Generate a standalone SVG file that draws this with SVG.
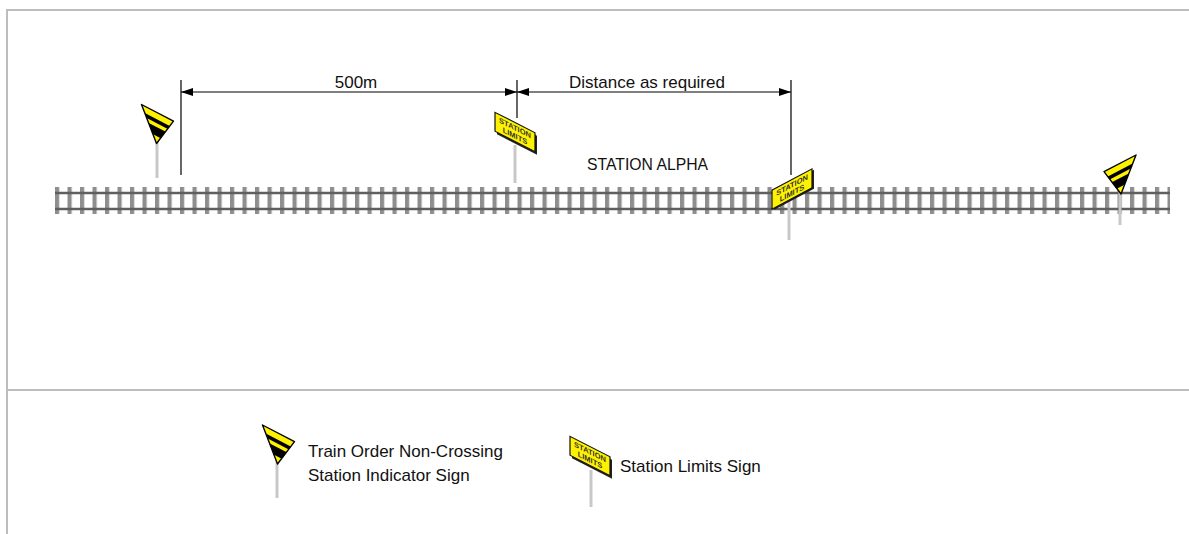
<svg xmlns="http://www.w3.org/2000/svg" width="1189" height="534" viewBox="0 0 1189 534">
<style>
.frame{stroke:#bdbdbd;stroke-width:2;fill:none}
.dim{stroke:#000;stroke-width:1.2;fill:none}
.lbl{font-family:"Liberation Sans",Arial,sans-serif;font-size:17px;fill:#111}
.pole{stroke:#c8c8c8;stroke-width:3}
.rail{stroke:#5f5f5f;stroke-width:2.4}
.slt{font-family:"Liberation Sans",Arial,sans-serif;font-size:7.5px;font-weight:bold;fill:#333}
</style>
<defs>
<marker id="ah" viewBox="0 0 12 8" refX="12" refY="4" markerWidth="12" markerHeight="8" markerUnits="userSpaceOnUse" orient="auto-start-reverse">
<path d="M0,0 L12,4 L0,8 Z" fill="#000"/>
</marker>
<pattern id="sleep" x="55" y="0" width="12.5" height="534" patternUnits="userSpaceOnUse">
<rect x="0" y="187" width="4.2" height="27" fill="#8e8e8e"/>
</pattern>
<clipPath id="triclip"><path d="M0,0 L32,16.7 L15,39 Z"/></clipPath>
<g id="tri">
<g clip-path="url(#triclip)">
<path d="M0,0 L32,16.7 L15,39 Z" fill="#fff200"/>
<g transform="rotate(27.55)">
<rect x="-20" y="6" width="80" height="3.5" fill="#000"/>
<rect x="-20" y="13" width="80" height="8" fill="#000"/>
</g>
</g>
<path d="M0,0 L32,16.7 L15,39 Z" fill="none" stroke="#000" stroke-width="1.4" stroke-linejoin="round"/>
</g>
<g id="sl">
<rect x="-18" y="-7.5" width="40" height="19" fill="#222"/>
<rect x="-20" y="-9.5" width="40" height="19" fill="#fff200" stroke="#111" stroke-width="1.2"/>
<text class="slt" x="0" y="-1.5" text-anchor="middle">STATION</text>
<text class="slt" x="0" y="6.5" text-anchor="middle">LIMITS</text>
</g>
</defs>

<g id="frame">
<path class="frame" d="M7,534 L7,10 L1189,10"/>
<path class="frame" d="M7,390 L1189,390"/>
</g>

<g id="track">
<rect x="55" y="187" width="1115" height="27" fill="url(#sleep)"/>
<line class="rail" x1="55" y1="193" x2="1170" y2="193"/>
<line class="rail" x1="55" y1="209" x2="1170" y2="209"/>
</g>

<g id="connectors">
<line class="dim" x1="181" y1="80" x2="181" y2="175"/>
<line class="dim" x1="517" y1="80" x2="517" y2="118"/>
<line class="dim" x1="791" y1="80" x2="791" y2="175"/>
<line class="dim" x1="181" y1="92" x2="517" y2="92" marker-start="url(#ah)" marker-end="url(#ah)"/>
<line class="dim" x1="517" y1="92" x2="791" y2="92" marker-start="url(#ah)" marker-end="url(#ah)"/>
</g>

<g id="label-500m"><text class="lbl" x="356" y="88" text-anchor="middle">500m</text></g>
<g id="label-distance"><text class="lbl" x="647" y="88" text-anchor="middle">Distance as required</text></g>
<g id="label-station"><text class="lbl" x="647.5" y="170" text-anchor="middle" textLength="121" lengthAdjust="spacingAndGlyphs">STATION ALPHA</text></g>

<g id="sign-indicator-left">
<line class="pole" x1="157" y1="140" x2="157" y2="178"/>
<use href="#tri" transform="translate(141.5,104.5)"/>
</g>

<g id="sign-limits-1">
<line class="pole" x1="515" y1="145" x2="515" y2="183"/>
<use href="#sl" transform="translate(515,132) skewY(27)"/>
</g>

<g id="sign-limits-2">
<line class="pole" x1="789" y1="200" x2="789" y2="240"/>
<use href="#sl" transform="translate(792,189) skewY(-28)"/>
</g>

<g id="sign-indicator-right">
<line class="pole" x1="1120" y1="188" x2="1120" y2="225"/>
<use href="#tri" transform="translate(1136,155) scale(-1,1)"/>
</g>

<g id="legend-indicator">
<line class="pole" x1="277" y1="460" x2="277" y2="498"/>
<use href="#tri" transform="translate(262.5,425)"/>
<text class="lbl" x="308" y="457">Train Order Non-Crossing</text>
<text class="lbl" x="308" y="481">Station Indicator Sign</text>
</g>

<g id="legend-limits">
<line class="pole" x1="591" y1="470" x2="591" y2="507"/>
<use href="#sl" transform="translate(590,456) skewY(27)"/>
<text class="lbl" x="620" y="472">Station Limits Sign</text>
</g>
</svg>
